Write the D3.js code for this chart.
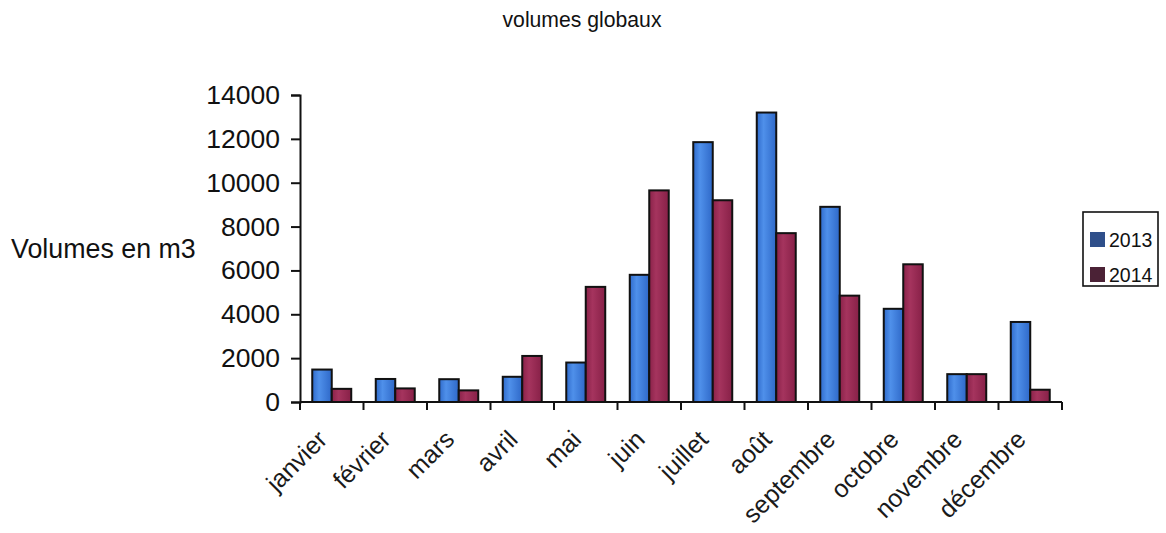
<!DOCTYPE html>
<html>
<head>
<meta charset="utf-8">
<script src="https://cdn.jsdelivr.net/npm/d3@7"></script>
<style>
  html, body { margin: 0; padding: 0; background: #fff; }
  svg { display: block; font-family: "Liberation Sans", Arial, Helvetica, sans-serif; }
</style>
</head>
<body>
<svg id="chart" width="1166" height="533"></svg>
<script>
// Monthly global volumes (m3), two years side by side
const months = ["janvier", "février", "mars", "avril", "mai", "juin",
                "juillet", "août", "septembre", "octobre", "novembre", "décembre"];
const years = ["2013", "2014"];
const values2013 = [1480, 1050, 1040, 1150, 1800, 5800, 11850, 13200, 8900, 4250, 1270, 3650];
const values2014 = [600, 620, 530, 2100, 5250, 9650, 9200, 7700, 4850, 6280, 1270, 560];
const yTicks = [0, 2000, 4000, 6000, 8000, 10000, 12000, 14000];

const svg = d3.select("#chart");
const plot = { left: 300, right: 1062, top: 95, bottom: 402 };

// gradients for the bar fills
const defs = svg.append("defs");
function grad(id, stops) {
  const g = defs.append("linearGradient").attr("id", id)
    .attr("x1", "0%").attr("x2", "100%").attr("y1", "0%").attr("y2", "0%");
  stops.forEach(([o, c]) => g.append("stop").attr("offset", o).attr("stop-color", c));
}
grad("g2013", [["0%", "#2f6bcc"], ["35%", "#4f90ea"], ["100%", "#2e68c8"]]);
grad("g2014", [["0%", "#8a2249"], ["35%", "#a5345e"], ["100%", "#872047"]]);

const x = d3.scaleBand().domain(months)
  .range([plot.left, plot.right]).paddingInner(0.386).paddingOuter(0.193);
const xs = d3.scaleBand().domain(years).range([0, x.bandwidth()]);
const y = d3.scaleLinear().domain([0, 14000]).range([plot.bottom, plot.top]);

const series = [
  { year: "2013", vals: values2013, fill: "url(#g2013)" },
  { year: "2014", vals: values2014, fill: "url(#g2014)" }
];

// bars
const groups = svg.append("g").selectAll("g").data(months).join("g")
  .attr("transform", d => `translate(${x(d)},0)`);
groups.selectAll("rect")
  .data((m, i) => series.map(s => ({ year: s.year, v: s.vals[i], fill: s.fill })))
  .join("rect")
  .attr("x", d => xs(d.year))
  .attr("width", xs.bandwidth())
  .attr("y", d => y(d.v))
  .attr("height", d => y(0) - y(d.v))
  .attr("fill", d => d.fill)
  .attr("stroke", "#111")
  .attr("stroke-width", 2);

// y axis
const yAxis = svg.append("g")
  .attr("transform", `translate(${plot.left},0)`)
  .call(d3.axisLeft(y).tickValues(yTicks).tickFormat(d3.format("d")).tickSize(9).tickPadding(11));
yAxis.select(".domain").attr("stroke", "#111").attr("stroke-width", 2);
yAxis.selectAll(".tick line").attr("stroke", "#111").attr("stroke-width", 2);
yAxis.selectAll(".tick text").attr("font-size", 26.5).attr("fill", "#111")
  .attr("font-family", "Liberation Sans, Arial, sans-serif");

// x axis: ticks on category boundaries
const xAxisG = svg.append("g").attr("transform", `translate(0,${plot.bottom})`);
xAxisG.append("line").attr("x1", plot.left).attr("x2", plot.right)
  .attr("stroke", "#111").attr("stroke-width", 2);
const step = x.step();
const bounds = d3.range(months.length + 1).map(i => plot.left + i * step);
xAxisG.selectAll("line.tk").data(bounds).join("line").attr("class", "tk")
  .attr("x1", d => d).attr("x2", d => d).attr("y1", 0).attr("y2", 8)
  .attr("stroke", "#111").attr("stroke-width", 2);
xAxisG.selectAll("text").data(months).join("text")
  .attr("transform", d => `translate(${x(d) + x.bandwidth() / 2 - 3},${39}) rotate(-45)`)
  .attr("text-anchor", "end")
  .attr("font-size", 25)
  .attr("fill", "#1a1a1a")
  .text(d => d);

// axis title
svg.append("text").attr("x", 11).attr("y", 258)
  .attr("font-size", 26.8).attr("fill", "#111").text("Volumes en m3");

// chart title
svg.append("text").attr("x", 582).attr("y", 27).attr("text-anchor", "middle")
  .attr("font-size", 21.2).attr("fill", "#111").text("volumes globaux");

// legend
const legend = svg.append("g");
legend.append("rect").attr("x", 1083).attr("y", 212).attr("width", 75).attr("height", 74)
  .attr("fill", "#fff").attr("stroke", "#111").attr("stroke-width", 1.6);
const legendColors = ["#2f4f8a", "#4b2236"];
years.forEach((yr, i) => {
  const yy = 232 + i * 35;
  legend.append("rect").attr("x", 1090).attr("y", yy).attr("width", 15).attr("height", 15)
    .attr("fill", legendColors[i]);
  legend.append("text").attr("x", 1109).attr("y", yy + 15)
    .attr("font-size", 19.5).attr("fill", "#111").text(yr);
});
</script>
</body>
</html>
